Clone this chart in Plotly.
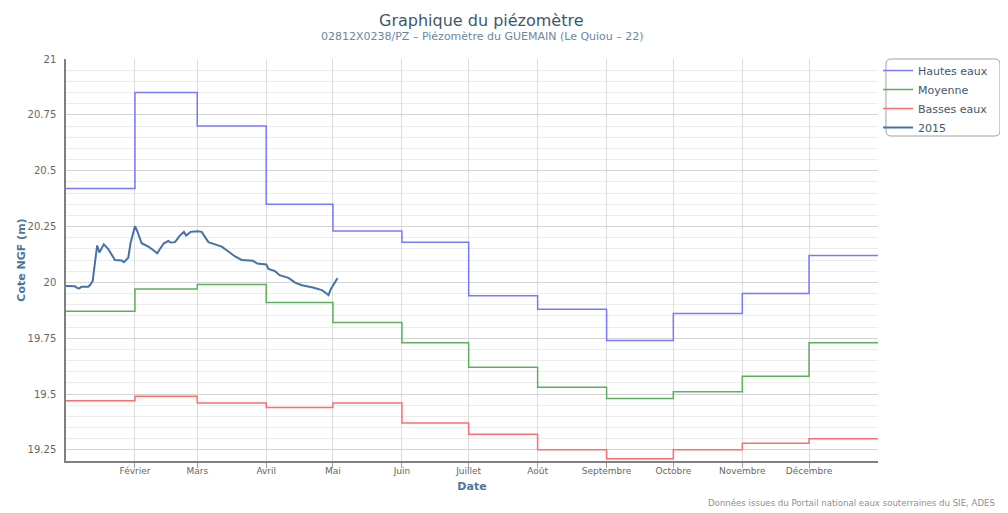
import plotly.graph_objects as go

# ---- Data ----
month_starts = ["2015-01-01", "2015-02-01", "2015-03-01", "2015-04-01", "2015-05-01", "2015-06-01",
                "2015-07-01", "2015-08-01", "2015-09-01", "2015-10-01", "2015-11-01", "2015-12-01"]
year_end = "2016-01-01"
month_labels = ["Février", "Mars", "Avril", "Mai", "Juin", "Juillet", "Août",
                "Septembre", "Octobre", "Novembre", "Décembre"]

hautes_eaux = [20.42, 20.85, 20.70, 20.35, 20.23, 20.18, 19.94, 19.88, 19.74, 19.86, 19.95, 20.12]
moyenne = [19.87, 19.97, 19.99, 19.91, 19.82, 19.73, 19.62, 19.53, 19.48, 19.51, 19.58, 19.73]
basses_eaux = [19.47, 19.49, 19.46, 19.44, 19.46, 19.37, 19.32, 19.25, 19.21, 19.25, 19.28, 19.30]

dates_2015 = ["2015-01-01", "2015-01-05", "2015-01-06", "2015-01-07", "2015-01-08", "2015-01-11",
              "2015-01-12", "2015-01-13", "2015-01-14", "2015-01-15", "2015-01-16", "2015-01-18",
              "2015-01-20", "2015-01-22", "2015-01-23", "2015-01-26", "2015-01-27", "2015-01-29",
              "2015-01-30", "2015-02-01", "2015-02-02", "2015-02-04", "2015-02-07", "2015-02-09",
              "2015-02-11", "2015-02-12", "2015-02-14", "2015-02-16", "2015-02-17", "2015-02-19",
              "2015-02-21", "2015-02-23", "2015-02-24", "2015-02-26", "2015-03-01", "2015-03-03",
              "2015-03-05", "2015-03-06", "2015-03-09", "2015-03-12", "2015-03-15", "2015-03-18",
              "2015-03-21", "2015-03-26", "2015-03-28", "2015-04-01", "2015-04-02", "2015-04-05",
              "2015-04-07", "2015-04-11", "2015-04-14", "2015-04-17", "2015-04-22", "2015-04-26",
              "2015-04-28", "2015-04-29", "2015-04-30", "2015-05-03"]
values_2015 = [19.984, 19.982, 19.975, 19.973, 19.980, 19.980,
               19.990, 20.006, 20.087, 20.165, 20.134, 20.170,
               20.149, 20.116, 20.100, 20.098, 20.090, 20.110,
               20.175, 20.251, 20.230, 20.175, 20.160, 20.146,
               20.130, 20.146, 20.175, 20.185, 20.178, 20.180,
               20.207, 20.226, 20.210, 20.226, 20.229, 20.226,
               20.197, 20.180, 20.170, 20.160, 20.138, 20.116,
               20.100, 20.097, 20.084, 20.080, 20.060, 20.050,
               20.032, 20.020, 19.999, 19.987, 19.977, 19.965,
               19.951, 19.943, 19.969, 20.018]

y_ticks = [19.25, 19.5, 19.75, 20, 20.25, 20.5, 20.75, 21]
y_tick_labels = ["19.25", "19.5", "19.75", "20", "20.25", "20.5", "20.75", "21"]

FONT = "DejaVu Sans"

# page geometry: the html body adds an 8px margin around the figure
OFF = 8
PAGE_W, PAGE_H = 1008, 513
W, H = PAGE_W - OFF, PAGE_H - OFF
# plot area in page pixels
PL, PR, PT, PB = 66, 878, 59, 461
L, T = PL - OFF, PT - OFF
R, B = W - (PR - OFF), H - (PB - OFF)
PW, PH = PR - PL, PB - PT


def px_x(px):
    return (px - PL) / PW


def px_y(py):
    return (PB - py) / PH


step_x = month_starts + [year_end]

fig = go.Figure()
for name, vals, color in [("Hautes eaux", hautes_eaux, "#7878ff"),
                          ("Moyenne", moyenne, "#5cb05c"),
                          ("Basses eaux", basses_eaux, "#ff6e6e")]:
    fig.add_trace(go.Scatter(x=step_x, y=vals + [vals[-1]], mode="lines", name=name,
                             line=dict(color=color, width=1.5, shape="hv"),
                             hoverinfo="x+y+name"))

fig.add_trace(go.Scatter(x=dates_2015, y=values_2015, mode="lines", name="2015",
                         line=dict(color="#4572A7", width=2)))

# rounded legend box
bx0, bx1, by0, by1, rr = px_x(886), px_x(1000), px_y(59), px_y(136), 5
rx, ry = rr / PW, rr / PH
legend_box = (f"M {bx0 + rx},{by0} L {bx1 - rx},{by0} Q {bx1},{by0} {bx1},{by0 - ry} "
              f"L {bx1},{by1 + ry} Q {bx1},{by1} {bx1 - rx},{by1} L {bx0 + rx},{by1} "
              f"Q {bx0},{by1} {bx0},{by1 + ry} L {bx0},{by0 - ry} Q {bx0},{by0} {bx0 + rx},{by0} Z")

fig.update_layout(
    width=W, height=H,
    margin=dict(l=L, r=R, t=T, b=B, autoexpand=False),
    paper_bgcolor="white", plot_bgcolor="white",
    font=dict(family=FONT, color="#666666"),
    showlegend=True,
    legend=dict(x=px_x(878), y=px_y(56), xanchor="left", yanchor="top",
                borderwidth=0, bgcolor="rgba(0,0,0,0)",
                font=dict(size=11, color="#3e576f", family=FONT),
                itemwidth=30, tracegroupgap=0),
    shapes=[dict(type="path", path=legend_box, xref="paper", yref="paper",
                 line=dict(color="#a0a0a0", width=1), fillcolor="rgba(0,0,0,0)", layer="below")],
    xaxis=dict(type="date", range=["2015-01-01", year_end], automargin=False,
               tickvals=month_starts[1:], ticktext=month_labels,
               tickfont=dict(size=9, color="#666666"),
               ticks="outside", ticklen=5, tickcolor="#a0a0a0", ticklabelstandoff=-5,
               showgrid=True, gridcolor="#dcdcdc", gridwidth=1,
               showline=True, linecolor="#808080", linewidth=1.5,
               zeroline=False,
               title=dict(text="<b>Date</b>", font=dict(size=11, color="#4d759e"), standoff=8)),
    yaxis=dict(range=[19.2, 21], tickvals=y_ticks, ticktext=y_tick_labels, automargin=False,
               tickfont=dict(size=10, color="#666666"),
               ticks="", ticklabelstandoff=6,
               showgrid=True, gridcolor="#d4d4d4", gridwidth=1,
               minor=dict(dtick=0.05, tick0=19.2, showgrid=True, gridcolor="#ececec", gridwidth=1),
               showline=True, linecolor="#808080", linewidth=1.5,
               zeroline=False,
               title=dict(text="<b>Cote NGF (m)</b>", font=dict(size=11, color="#4d759e"), standoff=0)),
    annotations=[
        dict(text="Graphique du piézomètre", xref="paper", yref="paper", x=px_x(481), y=px_y(20),
             xanchor="center", yanchor="middle", showarrow=False,
             font=dict(size=16, color="#3e576f", family=FONT)),
        dict(text="02812X0238/PZ – Piézomètre du GUEMAIN (Le Quiou – 22)", xref="paper", yref="paper",
             x=px_x(483), y=px_y(37), xanchor="center", yanchor="middle", showarrow=False,
             font=dict(size=11, color="#6d869f", family=FONT)),
        dict(text="Données issues du Portail national eaux souterraines du SIE, ADES", xref="paper",
             yref="paper", x=px_x(706), y=px_y(503), xanchor="left", yanchor="middle", showarrow=False,
             font=dict(size=8.6, color="#909090", family=FONT)),
    ],
)

fig.write_html("out.html")
